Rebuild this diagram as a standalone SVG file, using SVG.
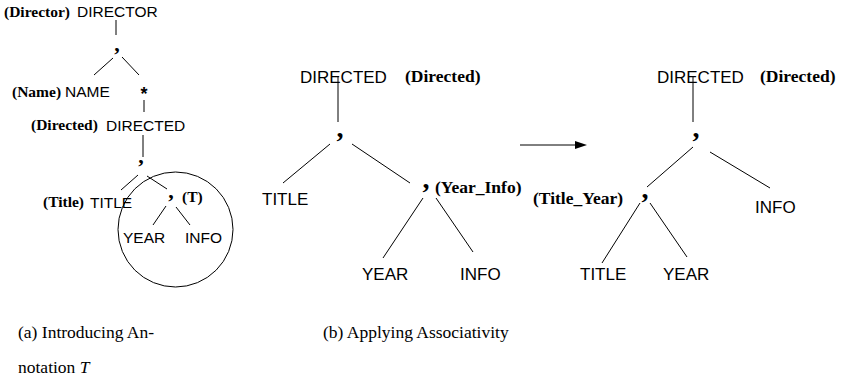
<svg xmlns="http://www.w3.org/2000/svg" width="845" height="382" viewBox="0 0 845 382">
<style>
.s{font-family:"Liberation Sans",Arial,sans-serif;fill:#000}
.sa{font-size:15.5px}
.sb{font-size:17px}
.b{font-family:"Liberation Serif","Times New Roman",serif;font-weight:bold;fill:#000}
.ba{font-size:15.5px}
.bb{font-size:17.5px}
.cm{font-family:"Liberation Serif","Times New Roman",serif;font-weight:bold;text-anchor:middle}
.cap{font-family:"Liberation Serif","Times New Roman",serif;font-size:17.5px;fill:#000}
.ln{stroke:#000;stroke-width:1;fill:none}
</style>
<rect width="845" height="382" fill="#fff"/>
<g id="connectors" class="ln">
<line x1="116" y1="20" x2="116" y2="35"/>
<line x1="113" y1="58" x2="94" y2="75"/>
<line x1="122" y1="57" x2="139" y2="75"/>
<line x1="144" y1="100" x2="144" y2="112"/>
<line x1="143" y1="135" x2="143" y2="157"/>
<line x1="138" y1="175" x2="121" y2="190"/>
<line x1="147" y1="176" x2="167" y2="189"/>
<line x1="166" y1="206" x2="153" y2="225"/>
<line x1="176" y1="207" x2="190" y2="225"/>
<line x1="338" y1="76" x2="338" y2="122"/>
<line x1="330" y1="144" x2="283" y2="183"/>
<line x1="352" y1="144" x2="410" y2="183"/>
<line x1="423" y1="198" x2="383" y2="258"/>
<line x1="436" y1="198" x2="473" y2="252"/>
<line x1="693" y1="76" x2="693" y2="122"/>
<line x1="693" y1="147" x2="647" y2="187"/>
<line x1="710" y1="152" x2="770" y2="188"/>
<line x1="640" y1="203" x2="602" y2="263"/>
<line x1="650" y1="203" x2="687" y2="257"/>
<line x1="520" y1="145" x2="576" y2="145"/>
<polygon points="575,141 587,145 575,149" fill="#000" stroke="none"/>
</g>
<g id="annotation-T">
<circle cx="175.5" cy="229.5" r="57.5" class="ln"/>
</g>
<g id="a-director"><text class="b ba" x="4" y="17">(Director)</text><text class="s sa" x="77" y="17">DIRECTOR</text></g>
<g id="a-comma1"><text class="cm" font-size="22" x="117" y="51">,</text></g>
<g id="a-name"><text class="b ba" x="12" y="97">(Name)</text><text class="s sa" x="65" y="97">NAME</text></g>
<g id="a-star"><text class="s" font-size="18" font-weight="bold" x="144" y="100" text-anchor="middle">*</text></g>
<g id="a-directed"><text class="b ba" x="31" y="130">(Directed)</text><text class="s sa" x="106" y="131">DIRECTED</text></g>
<g id="a-comma2"><text class="cm" font-size="22" x="141" y="163">,</text></g>
<g id="a-title"><text class="b ba" x="43" y="207">(Title)</text><text class="s sa" x="90" y="208">TITLE</text></g>
<g id="a-comma3"><text class="cm" font-size="22" x="171" y="198">,</text><text class="b ba" x="182" y="202">(T)</text></g>
<g id="a-year"><text class="s sa" x="123" y="243">YEAR</text></g>
<g id="a-info"><text class="s sa" x="185" y="243">INFO</text></g>
<g id="b-directed"><text class="s sb" x="300" y="83">DIRECTED</text><text class="b bb" x="405" y="82">(Directed)</text></g>
<g id="b-comma1"><text class="cm" font-size="28" x="340" y="137">,</text></g>
<g id="b-title"><text class="s sb" x="262" y="205">TITLE</text></g>
<g id="b-comma2"><text class="cm" font-size="28" x="426" y="188">,</text><text class="b bb" x="435" y="193">(Year_Info)</text></g>
<g id="b-year"><text class="s sb" x="362" y="280">YEAR</text></g>
<g id="b-info"><text class="s sb" x="460" y="280">INFO</text></g>
<g id="c-directed"><text class="s sb" x="657" y="83">DIRECTED</text><text class="b bb" x="760" y="82">(Directed)</text></g>
<g id="c-comma1"><text class="cm" font-size="28" x="696" y="137">,</text></g>
<g id="c-comma2"><text class="b bb" x="533" y="204">(Title_Year)</text><text class="cm" font-size="28" x="645" y="198">,</text></g>
<g id="c-info"><text class="s sb" x="755" y="213">INFO</text></g>
<g id="c-title"><text class="s sb" x="580" y="280">TITLE</text></g>
<g id="c-year"><text class="s sb" x="663" y="280">YEAR</text></g>
<g id="captions">
<text class="cap" x="18" y="338">(a) Introducing An-</text>
<text class="cap" x="18" y="373">notation <tspan font-style="italic">T</tspan></text>
<text class="cap" x="323" y="338">(b) Applying Associativity</text>
</g>
</svg>
